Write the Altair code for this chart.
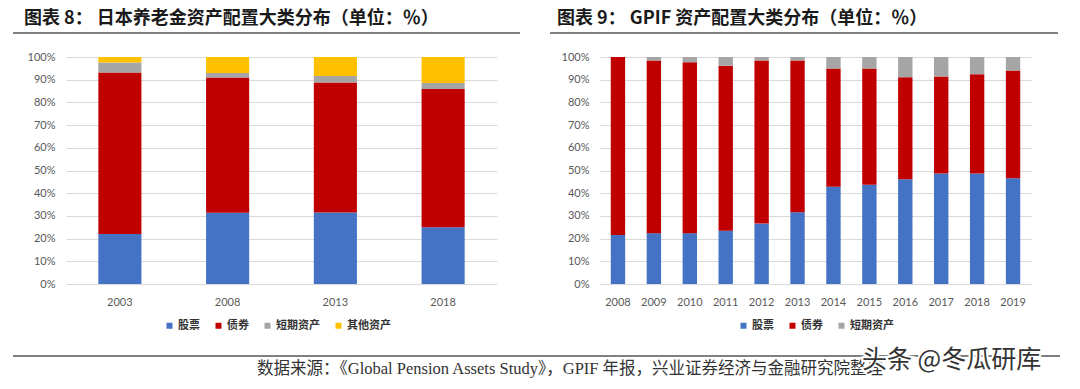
import altair as alt
import pandas as pd

# ---------------- data ----------------
cats = ["股票", "债券", "短期资产", "其他资产"]
colors = ["#4472C4", "#C00000", "#A5A5A5", "#FFC000"]

years_a = ["2003", "2008", "2013", "2018"]
stock_a = [22.0, 31.4, 31.5, 25.0]
bond_a = [71.2, 59.6, 57.3, 60.9]
short_a = [4.4, 2.0, 2.8, 2.6]
other_a = [2.4, 7.0, 8.4, 11.5]

years_b = ["2008", "2009", "2010", "2011", "2012", "2013",
           "2014", "2015", "2016", "2017", "2018", "2019"]
stock_b = [21.6, 22.4, 22.4, 23.5, 26.6, 31.6, 42.8, 43.7, 46.1, 48.7, 48.7, 46.6]
bond_b = [78.4, 76.1, 75.3, 72.7, 71.9, 66.9, 52.1, 51.2, 45.0, 42.7, 43.7, 47.4]
short_b = [0.0, 1.5, 2.3, 3.8, 1.5, 1.5, 5.1, 5.1, 8.9, 8.6, 7.6, 6.0]

y_ticks = [0, 10, 20, 30, 40, 50, 60, 70, 80, 90, 100]

title_a = "图表 8： 日本养老金资产配置大类分布（单位：％）"
title_b = "图表 9： GPIF 资产配置大类分布（单位：％）"
footer = "数据来源：《Global Pension Assets Study》，GPIF 年报，兴业证券经济与金融研究院整理"
watermark = "头条 @冬瓜研库"


def long_df(years, series):
    rows = []
    for ci, (cat, vals) in enumerate(series):
        for y, v in zip(years, vals):
            rows.append({"year": y, "cat": cat, "value": v, "ord": ci})
    return pd.DataFrame(rows)


df_a = long_df(years_a, [(cats[0], stock_a), (cats[1], bond_a), (cats[2], short_a), (cats[3], other_a)])
df_b = long_df(years_b, [(cats[0], stock_b), (cats[1], bond_b), (cats[2], short_b)])

W, H = 431, 227
AX_FONT = "Lato"
CJK = "Noto Sans CJK SC"


def bars(df, years, ncat, legend_x):
    return alt.Chart(df).mark_bar().encode(
        x=alt.X("year:N", sort=years,
                scale=alt.Scale(paddingInner=0.6, paddingOuter=0.3),
                axis=alt.Axis(title=None, labelAngle=0, ticks=False, domain=False,
                              labelPadding=12, labelFont=AX_FONT, labelFontSize=11,
                              labelColor="#595959")),
        y=alt.Y("value:Q", stack="zero",
                scale=alt.Scale(domain=[0, 100], nice=False),
                axis=alt.Axis(title=None, values=y_ticks, labelExpr="datum.value + '%'",
                              ticks=False, domain=False, grid=True, gridColor="#D9D9D9",
                              labelPadding=11, labelFont=AX_FONT, labelFontSize=11,
                              labelColor="#595959")),
        color=alt.Color("cat:N",
                        scale=alt.Scale(domain=cats[:ncat], range=colors[:ncat]),
                        legend=alt.Legend(title=None, orient="none", legendX=legend_x, legendY=263,
                                          direction="horizontal", symbolType="square",
                                          symbolSize=36, symbolStrokeWidth=0,
                                          labelFont=CJK, labelFontSize=11, labelFontWeight="bold",
                                          labelColor="#333333", labelOffset=3,
                                          columnPadding=13, padding=0)),
        order=alt.Order("ord:Q"),
    )


def text_layer(txt, x, y, size, font, weight="normal", color="#222222",
               stroke=None, stroke_width=0):
    kw = dict(align="left", baseline="middle", font=font, fontSize=size,
              fontWeight=weight, color=color)
    if stroke is not None:
        kw.update(stroke=stroke, strokeWidth=stroke_width)
    return alt.Chart(pd.DataFrame({"t": [txt]})).mark_text(**kw).encode(
        x=alt.value(x), y=alt.value(y), text="t:N")


def hrule(x1, x2, y, color="#808080", width=2, opacity=1):
    return alt.Chart(pd.DataFrame({"d": [0]})).mark_rule(
        color=color, strokeWidth=width, strokeOpacity=opacity
    ).encode(x=alt.value(x1), x2=alt.value(x2), y=alt.value(y))


# panel A: plot origin at page (66, 56)
panel_a = alt.layer(
    bars(df_a, years_a, 4, 98),
    hrule(-58, -57, -49, opacity=0, width=0.1),
    text_layer(title_a, -42, -38, 18, CJK, "bold", "#1a1a1a"),
    hrule(-53, 454, -24),
    hrule(-53, 994, 299),
    text_layer(footer, 191, 312, 16.5, "Liberation Serif, Noto Sans CJK SC", "normal", "#333333"),
).properties(width=W, height=H)

# panel B: plot origin at page (600, 56)
panel_b = alt.layer(
    bars(df_b, years_b, 3, 138),
    text_layer(title_b, -43, -38, 18, CJK, "bold", "#1a1a1a"),
    hrule(-50, 458, -24),
    text_layer(watermark, 262, 303, 25, CJK, "normal", "#ffffff", "#ffffff", 4),
    text_layer(watermark, 262, 303, 25, CJK, "normal", "#333333"),
).properties(width=W, height=H)

chart = alt.hconcat(panel_a, panel_b, spacing=103, bounds="flush").resolve_scale(
    color="independent", x="independent", y="independent"
).configure_view(stroke=None).properties(padding=0)

chart.save("out.html", embed_options={"renderer": "svg", "actions": False})
